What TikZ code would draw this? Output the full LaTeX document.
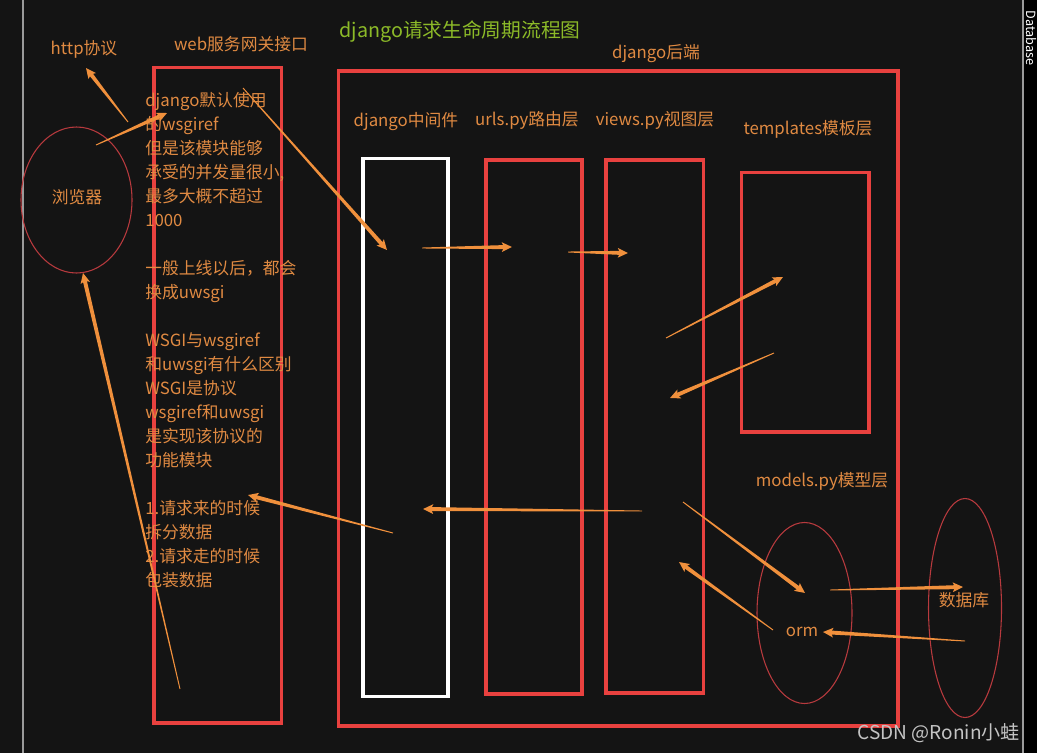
\documentclass[tikz,border=0pt]{standalone}
\usepackage{fontspec}
\setmainfont{Noto Sans CJK SC}
\usetikzlibrary{arrows.meta,calc,shapes.geometric}
\definecolor{bgc}{HTML}{141414}
\definecolor{boxred}{HTML}{E8413F}
\definecolor{ellred}{HTML}{B83A3E}
\definecolor{txtorange}{HTML}{E08A42}
\definecolor{arrorange}{HTML}{F0903C}
\definecolor{titlegreen}{HTML}{8CBA28}
\definecolor{sidegray}{HTML}{9A9A9A}
\definecolor{markgray}{HTML}{C4C4C4}
\tikzset{
  lbl/.style={text=txtorange, font=\fontsize{12.6pt}{18pt}\selectfont, inner sep=0pt, text height=0.88em, text depth=0.12em},
  txtline/.style={lbl, anchor=west},
  redbox/.style={draw=boxred, line width=2.3pt},
  whitebox/.style={draw=white, line width=2.3pt},
  ring/.style={ellipse, draw=ellred, line width=0.8pt, inner sep=0pt},
}
\newcommand\taperarrow[2]{%
  \path ($(#2)!6pt!(#1)$) coordinate (tmpC);
  \fill[arrorange] ($(#1)!0.35pt!90:(#2)$) -- ($(tmpC)!1.5pt!-90:(#1)$) -- ($(tmpC)!1.5pt!90:(#1)$) -- ($(#1)!0.35pt!-90:(#2)$) -- cycle;
  \draw[arrorange, line width=2.6pt, -{Stealth[length=7.5pt,width=7pt,inset=1.5pt]}] (tmpC) -- (#2);
}
\begin{document}
\begin{tikzpicture}[x=0.75pt,y=-0.75pt]
\useasboundingbox (0,0) rectangle (1037,753);
\fill[bgc] (0,0) rectangle (1037,753);
\fill[black] (1023,0) rectangle (1037,753);
\draw[sidegray, line width=0.8pt] (1023,0) -- (1023,753);
\draw[sidegray, line width=0.8pt] (23,0) -- (23,753);
\node[rotate=-90, text=white, font=\fontsize{9.5pt}{11pt}\selectfont, inner sep=0pt] (dbside) at (1031,38) {Database};

% title
\node[text=titlegreen, font=\fontsize{14.8pt}{18pt}\selectfont, inner sep=0pt, text height=0.88em, text depth=0.12em] (title) at (460,32) {django请求生命周期流程图};

% boxes
\draw[redbox] (154,67.5) rectangle (281.5,723);
\draw[redbox] (338.5,71) rectangle (898,726);
\draw[whitebox] (363,158.5) rectangle (448,696.5);
\draw[redbox] (486,160) rectangle (582,694);
\draw[redbox] (606,160) rectangle (703.5,693);
\draw[redbox] (741.5,172.5) rectangle (869,432);

% ellipses
\node[ring, minimum width=83.25pt, minimum height=109.5pt] (browser) at (76.5,200) {};
\node[ring, minimum width=71.25pt, minimum height=135.75pt] (ormell) at (804.5,613) {};
\node[ring, minimum width=54.75pt, minimum height=164.25pt] (dbell) at (965,608) {};

% labels
\node[lbl] (http) at (84,49) {http协议};
\node[lbl] (wsgi) at (241,45) {web服务网关接口};
\node[lbl] (backend) at (656,53) {django后端};
\node[lbl] (browserlbl) at (77,198) {浏览器};
\node[lbl] (mw) at (406,121) {django中间件};
\node[lbl] (urls) at (527,120) {urls.py路由层};
\node[lbl] (views) at (655,120) {views.py视图层};
\node[lbl] (tpl) at (808,129) {templates模板层};
\node[lbl] (models) at (822,481) {models.py模型层};
\node[lbl] (orm) at (802,631) {orm};
\node[lbl] (db) at (964,601) {数据库};

% text block
\foreach \y/\t [count=\i] in {
  101/django默认使用,
  125/的wsgiref,
  149/但是该模块能够,
  173/承受的并发量很小{,},
  197/最多大概不超过,
  221/1000,
  269/一般上线以后，都会,
  293/换成uwsgi,
  341/WSGI与wsgiref,
  365/和uwsgi有什么区别,
  389/WSGI是协议,
  413/wsgiref和uwsgi,
  437/是实现该协议的,
  461/功能模块,
  509/1.请求来的时候,
  533/拆分数据,
  557/2.请求走的时候,
  581/包装数据}
  \node[txtline] (t\i) at (145,\y) {\t};

% watermark
\node[text=markgray, font=\fontsize{14.3pt}{17pt}\selectfont, inner sep=0pt, anchor=east, text height=0.88em, text depth=0.12em] (mark) at (1020,734) {CSDN @Ronin小蛙};

% arrow endpoints
\coordinate (a1s) at (128,122); \coordinate (a1e) at (86,68);
\coordinate (a2s) at (96,145);  \coordinate (a2e) at (167,113);
\coordinate (a3s) at (243,88);  \coordinate (a3e) at (387,250);
\coordinate (a4s) at (422,248); \coordinate (a4e) at (512,247);
\coordinate (a5s) at (568,252); \coordinate (a5e) at (628,253);
\coordinate (a6s) at (666,338); \coordinate (a6e) at (783,277);
\coordinate (a7s) at (774,353); \coordinate (a7e) at (670,398);
\coordinate (a8s) at (642,511); \coordinate (a8e) at (423,509);
\coordinate (a9s) at (393,533); \coordinate (a9e) at (248,495);
\coordinate (a10s) at (683,502); \coordinate (a10e) at (805,593);
\coordinate (a11s) at (773,630); \coordinate (a11e) at (679,562);
\coordinate (a12s) at (830,590); \coordinate (a12e) at (963,587);
\coordinate (a13s) at (965,641); \coordinate (a13e) at (823,632);
\coordinate (a14s) at (180,689); \coordinate (a14e) at (83,273);

\taperarrow{a1s}{a1e}
\taperarrow{a2s}{a2e}
\taperarrow{a3s}{a3e}
\taperarrow{a4s}{a4e}
\taperarrow{a5s}{a5e}
\taperarrow{a6s}{a6e}
\taperarrow{a7s}{a7e}
\taperarrow{a8s}{a8e}
\taperarrow{a9s}{a9e}
\taperarrow{a10s}{a10e}
\taperarrow{a11s}{a11e}
\taperarrow{a12s}{a12e}
\taperarrow{a13s}{a13e}
\taperarrow{a14s}{a14e}
\end{tikzpicture}
\end{document}
